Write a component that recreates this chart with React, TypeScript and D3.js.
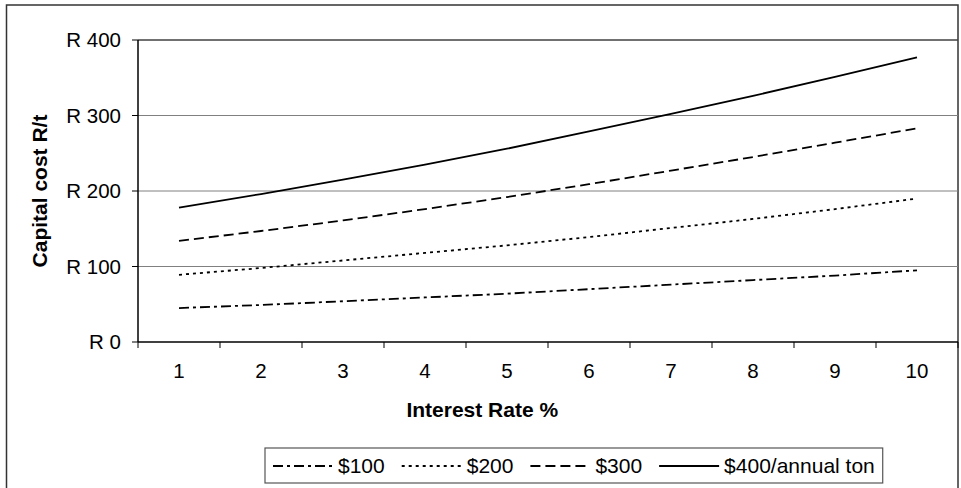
import React from "react";
import * as d3 from "d3";

// Interest rate categories (%)
const rates = [1, 2, 3, 4, 5, 6, 7, 8, 9, 10];

// Capital cost R/t for each annual-ton cost level
const cost100 = [45, 49, 54, 59, 64, 70, 76, 82, 88, 95];
const cost200 = [89, 98, 108, 118, 128, 139, 151, 163, 176, 190];
const cost300 = [134, 147, 161, 176, 192, 209, 227, 245, 264, 283];
const cost400 = [178, 196, 215, 235, 256, 279, 302, 326, 351, 377];

const seriesNames = ["$100", "$200", "$300", "$400/annual ton"];
const yTicks = [0, 100, 200, 300, 400];

const W = 961;
const H = 488;
const frame = { left: 6.5, right: 958, top: 5 };
const plot = { left: 138, right: 958, top: 40, bottom: 342 };
const FONT = "'Liberation Sans', Arial, Helvetica, sans-serif";
const TICK_SIZE = 20.5;
const LEGEND_SIZE = 21;

const dashes = ["10,4,3,4", "3,4", "10,5", ""];

export default function App() {
  const x = d3
    .scaleBand<number>()
    .domain(rates)
    .range([plot.left, plot.right])
    .paddingInner(0)
    .paddingOuter(0);
  const y = d3.scaleLinear().domain([0, 400]).range([plot.bottom, plot.top]);

  const line = d3
    .line<number>()
    .x((_, i) => (x(rates[i]) as number) + x.bandwidth() / 2)
    .y((d) => y(d));

  const series = [cost100, cost200, cost300, cost400];

  // legend layout: sample line, small gap, label, wider gap to next entry
  const legendY = 466;
  const sampleLen = 60;
  const charW: Record<string, number> = {
    "$": 0.556, "0": 0.556, "1": 0.556, "2": 0.556, "3": 0.556, "4": 0.556,
    "/": 0.278, a: 0.556, n: 0.556, u: 0.556, l: 0.222, " ": 0.278, t: 0.278, o: 0.556,
  };
  const textWidth = (s: string) =>
    s.split("").reduce((acc, c) => acc + (charW[c] ?? 0.556), 0) * LEGEND_SIZE;
  const legendLeft = 265;
  let cursor = legendLeft + 8;
  const legendItems = seriesNames.map((name) => {
    const item = { name, x0: cursor, tx: cursor + sampleLen + 5 };
    cursor = item.tx + textWidth(name) + 17;
    return item;
  });
  const legendRight = cursor - 17 + 8;

  const boundaries = d3.range(rates.length + 1).map(
    (i) => plot.left + i * x.bandwidth()
  );

  return (
    <svg
      width={W}
      height={H}
      style={{ position: "absolute", left: 0, top: 0, background: "#fff" }}
      fontFamily={FONT}
    >
      {/* chart frame */}
      <rect
        x={frame.left}
        y={frame.top}
        width={frame.right - frame.left}
        height={H}
        fill="#fff"
        stroke="#333"
        strokeWidth={1.5}
      />

      {/* gridlines */}
      {yTicks.slice(1).map((t) => (
        <line key={t} x1={plot.left} x2={plot.right} y1={y(t)} y2={y(t)} stroke="#808080" strokeWidth={1} />
      ))}
      <line x1={plot.left} x2={plot.right} y1={plot.top} y2={plot.top} stroke="#222" strokeWidth={1} />

      {/* series */}
      {series.map((s, i) => (
        <path
          key={i}
          d={line(s) as string}
          fill="none"
          stroke="#000"
          strokeWidth={1.8}
          strokeDasharray={dashes[i] || undefined}
        />
      ))}

      {/* y axis */}
      <line x1={plot.left} x2={plot.left} y1={plot.top} y2={plot.bottom} stroke="#000" strokeWidth={1.5} />
      {yTicks.map((t) => (
        <g key={t}>
          <line x1={plot.left - 6} x2={plot.left} y1={y(t)} y2={y(t)} stroke="#000" strokeWidth={1} />
          <text x={121} y={y(t)} dy="0.35em" textAnchor="end" fontSize={TICK_SIZE} fill="#000">
            {`R ${t}`}
          </text>
        </g>
      ))}

      {/* x axis */}
      <line x1={plot.left} x2={plot.right} y1={plot.bottom} y2={plot.bottom} stroke="#000" strokeWidth={1.5} />
      {boundaries.map((bx, i) => (
        <line key={i} x1={bx} x2={bx} y1={plot.bottom} y2={plot.bottom + 6} stroke="#000" strokeWidth={1} />
      ))}
      {rates.map((r) => (
        <text
          key={r}
          x={(x(r) as number) + x.bandwidth() / 2}
          y={378}
          textAnchor="middle"
          fontSize={TICK_SIZE}
          fill="#000"
        >
          {r}
        </text>
      ))}

      {/* axis titles */}
      <text x={(frame.left + frame.right) / 2} y={417} textAnchor="middle" fontSize={21} fontWeight="bold">
        Interest Rate %
      </text>
      <text
        transform={`translate(47, ${(plot.top + plot.bottom) / 2}) rotate(-90)`}
        textAnchor="middle"
        fontSize={21}
        fontWeight="bold"
      >
        Capital cost R/t
      </text>

      {/* legend */}
      <rect
        x={legendLeft}
        y={448}
        width={legendRight - legendLeft}
        height={35}
        fill="#fff"
        stroke="#555"
        strokeWidth={1.2}
      />
      {legendItems.map((it, i) => (
        <g key={it.name}>
          <line
            x1={it.x0}
            x2={it.x0 + sampleLen}
            y1={legendY}
            y2={legendY}
            stroke="#000"
            strokeWidth={1.8}
            strokeDasharray={dashes[i] || undefined}
          />
          <text x={it.tx} y={legendY} dy="0.35em" fontSize={LEGEND_SIZE} fill="#000">
            {it.name}
          </text>
        </g>
      ))}
    </svg>
  );
}
